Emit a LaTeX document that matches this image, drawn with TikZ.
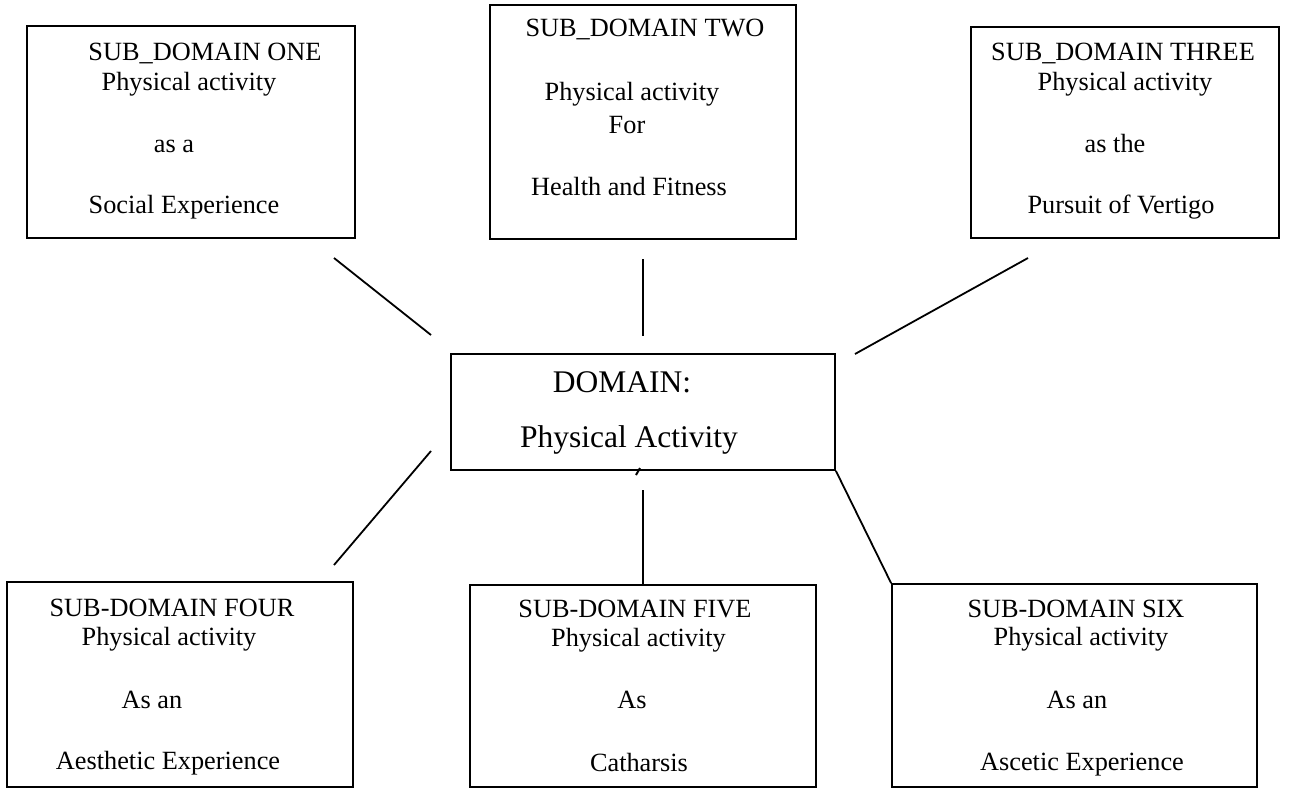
\documentclass[tikz,border=0pt]{standalone}
\usepackage{fontspec}
\setmainfont{Liberation Serif}
\begin{document}
\begin{tikzpicture}[x=1pt,y=-1pt,
  boxstyle/.style={draw, line width=1.8pt, rectangle, inner sep=0pt},
  lbl/.style={anchor=base, inner sep=0pt, font=\fontsize{26.3}{30}\selectfont},
  biglbl/.style={anchor=base, inner sep=0pt, font=\fontsize{31.5}{36}\selectfont},
  conn/.style={line width=1.8pt}]
\useasboundingbox (0,0) rectangle (1296,792);
% boxes
\node[boxstyle, minimum width=328pt, minimum height=212pt] (b1) at (191,132) {};
\node[boxstyle, minimum width=306pt, minimum height=234pt] (b2) at (643,122) {};
\node[boxstyle, minimum width=308pt, minimum height=211pt] (b3) at (1125,132.5) {};
\node[boxstyle, minimum width=384pt, minimum height=116pt] (dom) at (643,412) {};
\node[boxstyle, minimum width=346pt, minimum height=205pt] (b4) at (180,684.5) {};
\node[boxstyle, minimum width=346pt, minimum height=202pt] (b5) at (643,686) {};
\node[boxstyle, minimum width=365pt, minimum height=203pt] (b6) at (1074.5,685.5) {};
% texts box 1
\node[lbl] (t1a) at (205,60) {SUB\_DOMAIN ONE};
\node[lbl] (t1b) at (189,91) {Physical activity};
\node[lbl] (t1c) at (174,152) {as a};
\node[lbl] (t1d) at (184,213) {Social Experience};
% box 2
\node[lbl] (t2a) at (645,37) {SUB\_DOMAIN TWO};
\node[lbl] (t2b) at (632,100) {Physical activity};
\node[lbl] (t2c) at (627,133) {For};
\node[lbl] (t2d) at (629,195) {Health and Fitness};
% box 3
\node[lbl] (t3a) at (1123,60) {SUB\_DOMAIN THREE};
\node[lbl] (t3b) at (1125,91) {Physical activity};
\node[lbl] (t3c) at (1115,152) {as the};
\node[lbl] (t3d) at (1121,213) {Pursuit of Vertigo};
% center
\node[biglbl] (d1) at (622,392) {DOMAIN:};
\node[biglbl] (d2) at (629,447) {Physical Activity};
% box 4
\node[lbl] (t4a) at (172,616) {SUB-DOMAIN FOUR};
\node[lbl] (t4b) at (169,645) {Physical activity};
\node[lbl] (t4c) at (152,708) {As an};
\node[lbl] (t4d) at (168,769) {Aesthetic Experience};
% box 5
\node[lbl] (t5a) at (635,617) {SUB-DOMAIN FIVE};
\node[lbl] (t5b) at (638.5,646) {Physical activity};
\node[lbl] (t5c) at (632,708) {As};
\node[lbl] (t5d) at (639,771) {Catharsis};
% box 6
\node[lbl] (t6a) at (1076,617) {SUB-DOMAIN SIX};
\node[lbl] (t6b) at (1081,645) {Physical activity};
\node[lbl] (t6c) at (1077,708) {As an};
\node[lbl] (t6d) at (1082,770) {Ascetic Experience};
% connector ends
\coordinate (c1a) at (334,258);
\coordinate (c1b) at (431,335);
\coordinate (c2a) at (643,259);
\coordinate (c2b) at (643,336);
\coordinate (c3a) at (1028,258);
\coordinate (c3b) at (855,354);
\coordinate (c4a) at (431,451);
\coordinate (c4b) at (334,565);
\coordinate (c5a) at (643,490);
\coordinate (m1) at (640,468);
\coordinate (m2) at (636,475);
\draw[conn] (c1a) -- (c1b);
\draw[conn] (c2a) -- (c2b);
\draw[conn] (c3a) -- (c3b);
\draw[conn] (c4a) -- (c4b);
\draw[conn] (c5a) -- (b5.north);
\draw[conn] (dom.south east) -- (b6.north west);
\draw[line width=2pt] (m1) -- (m2);
\end{tikzpicture}
\end{document}
